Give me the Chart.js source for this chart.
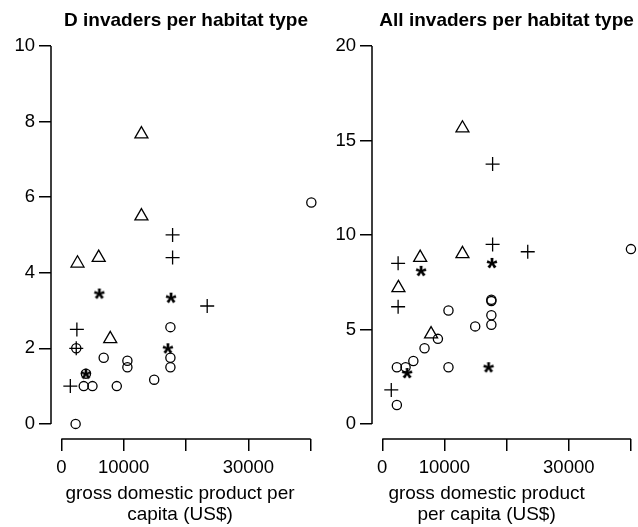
<!DOCTYPE html>
<html><head><meta charset="utf-8">
<script src="https://cdn.jsdelivr.net/npm/chart.js@4.4.1/dist/chart.umd.min.js"></script>
<style>
html,body{margin:0;padding:0;background:#fff;width:638px;height:527px;overflow:hidden;position:relative;}
canvas{position:absolute;top:0;}
#c1{left:0;} #c2{left:320px;}
</style></head><body>
<canvas id="c1" width="330" height="527"></canvas>
<canvas id="c2" width="330" height="527"></canvas>
<script>
// ---------- data ----------
const xTicks = [0, 10000, 20000, 30000, 40000];
const xTickLabels = ['0', '10000', '', '30000', ''];
const dYTicks = [0, 2, 4, 6, 8, 10];
const allYTicks = [0, 5, 10, 15, 20];

// D invaders per habitat type
const dCircleGDP = [40100, 17500, 2400, 6800, 10600, 10600, 17500, 17500, 14900, 3600, 5000, 8900, 3950, 2300];
const dCircleN   = [5.86, 2.56, 2.0, 1.75, 1.67, 1.5, 1.75, 1.5, 1.17, 1.0, 1.0, 1.0, 1.33, 0];
const dTriangleGDP = [12850, 12850, 2600, 6000, 7850];
const dTriangleN   = [7.67, 5.5, 4.25, 4.4, 2.25];
const dCrossGDP = [17850, 17850, 23400, 2500, 2400, 1450];
const dCrossN   = [5.0, 4.4, 3.12, 2.5, 2.0, 1.0];
const dStarGDP = [6100, 17600, 17100, 3950];
const dStarN   = [3.45, 3.34, 2.0, 1.33];

// All invaders per habitat type
const aCircleGDP = [40000, 17550, 17550, 17550, 17550, 14950, 10650, 8950, 6800, 5000, 3750, 2350, 10650, 2350];
const aCircleN   = [9.25, 6.5, 6.57, 5.75, 5.25, 5.16, 6.0, 4.5, 4.0, 3.33, 3.0, 3.0, 3.0, 1.0];
const aTriangleGDP = [12900, 12900, 6100, 2600, 7850];
const aTriangleN   = [15.65, 9.0, 8.8, 7.2, 4.75];
const aCrossGDP = [17750, 17750, 23400, 2550, 2550, 1450];
const aCrossN   = [13.75, 9.5, 9.11, 8.5, 6.2, 1.8];
const aStarGDP = [6250, 17650, 17100, 4000];
const aStarN   = [8.1, 8.52, 3.0, 2.69];

// ---------- helpers ----------
const FONT = '"Liberation Sans", Arial, Helvetica, sans-serif';

function makeAsterisk() {
  const c = document.createElement('canvas');
  c.width = 18; c.height = 18;
  const g = c.getContext('2d');
  g.font = 'bold 28px ' + FONT;
  g.textAlign = 'left';
  g.textBaseline = 'alphabetic';
  g.fillStyle = '#000';
  const m = g.measureText('*');
  const bx = 9 - (m.actualBoundingBoxRight - m.actualBoundingBoxLeft) / 2;
  const by = 9 + (m.actualBoundingBoxAscent - m.actualBoundingBoxDescent) / 2;
  g.fillText('*', bx, by);
  return c;
}
const asterisk = makeAsterisk();

function pts(xs, ys) { return xs.map((x, i) => ({x: x, y: ys[i]})); }

const rAxes = {
  id: 'rAxes',
  afterDraw(chart, args, opts) {
    const ctx = chart.ctx;
    const xs = chart.scales.x, ys = chart.scales.y, ca = chart.chartArea;
    ctx.save();
    ctx.strokeStyle = '#000';
    ctx.lineWidth = 1.5;
    ctx.beginPath();
    const yT = opts.yTicks;
    ctx.moveTo(ca.left, ys.getPixelForValue(yT[0]));
    ctx.lineTo(ca.left, ys.getPixelForValue(yT[yT.length - 1]));
    ctx.moveTo(xs.getPixelForValue(xTicks[0]), ca.bottom);
    ctx.lineTo(xs.getPixelForValue(xTicks[xTicks.length - 1]), ca.bottom);
    ctx.stroke();
    ctx.fillStyle = '#000';
    ctx.font = '19px ' + FONT;
    ctx.textAlign = 'center';
    ctx.textBaseline = 'alphabetic';
    const cx = (ca.left + ca.right) / 2 + opts.shift;
    opts.xTitle.forEach((t, i) => ctx.fillText(t, cx, ca.bottom + 60 + i * 21));
    ctx.restore();
  }
};

function makeChart(id, title, sets, yTicks, yMin, yMax, yWidth, padRight, xTitle, shift) {
  const base = {borderColor: '#000', backgroundColor: 'rgba(0,0,0,0)', borderWidth: 1.3};
  return new Chart(document.getElementById(id), {
    type: 'scatter',
    data: {
      datasets: [
        Object.assign({data: pts(sets[0][0], sets[0][1]), pointStyle: 'circle', pointRadius: 4.6}, base),
        Object.assign({data: pts(sets[1][0], sets[1][1]), pointStyle: 'triangle', pointRadius: 7.5}, base),
        Object.assign({data: pts(sets[2][0], sets[2][1]), pointStyle: 'cross', pointRadius: 7}, base),
        Object.assign({data: pts(sets[3][0], sets[3][1]), pointStyle: asterisk, pointRadius: 6}, base)
      ]
    },
    options: {
      responsive: false,
      animation: false,
      devicePixelRatio: 1,
      layout: {padding: {top: 0, left: 0, bottom: 0, right: padRight}},
      plugins: {
        legend: {display: false},
        tooltip: {enabled: false},
        title: {
          display: true, text: title, fullSize: false, color: '#000',
          font: {family: FONT, size: 19, weight: 'bold', lineHeight: 1.1},
          padding: {top: 10, bottom: 0}
        },
        rAxes: {yTicks: yTicks, xTitle: xTitle, shift: shift}
      },
      scales: {
        x: {
          type: 'linear', min: -1650, max: 41650,
          afterBuildTicks: s => { s.ticks = xTicks.map(v => ({value: v})); },
          afterFit: s => { s.height = 88; },
          border: {display: false},
          grid: {display: true, drawOnChartArea: false, drawTicks: true, tickLength: 12, color: '#000', lineWidth: 1.5},
          ticks: {
            autoSkip: false, maxRotation: 0, minRotation: 0, padding: 6, color: '#000',
            font: {family: FONT, size: 18.5},
            callback: v => { const i = xTicks.indexOf(v); return i >= 0 ? xTickLabels[i] : ''; }
          }
        },
        y: {
          type: 'linear', min: yMin, max: yMax,
          afterBuildTicks: s => { s.ticks = yTicks.map(v => ({value: v})); },
          afterFit: s => { s.width = yWidth; },
          border: {display: false},
          grid: {display: true, drawOnChartArea: false, drawTicks: true, tickLength: 12, color: '#000', lineWidth: 1.5},
          ticks: {
            autoSkip: false, padding: 4, color: '#000',
            font: {family: FONT, size: 18.5},
            callback: v => String(v)
          }
        }
      }
    },
    plugins: [rAxes]
  });
}

makeChart('c1', 'D invaders per habitat type',
  [[dCircleGDP, dCircleN], [dTriangleGDP, dTriangleN], [dCrossGDP, dCrossN], [dStarGDP, dStarN]],
  dYTicks, -0.4, 10.4, 51, 9, ['gross domestic product per', 'capita (US$)'], -6);

makeChart('c2', 'All invaders per habitat type',
  [[aCircleGDP, aCircleN], [aTriangleGDP, aTriangleN], [aCrossGDP, aCrossN], [aStarGDP, aStarN]],
  allYTicks, -0.8, 20.8, 52, 7.6, ['gross domestic product', 'per capita (US$)'], -20);
</script>
</body></html>
